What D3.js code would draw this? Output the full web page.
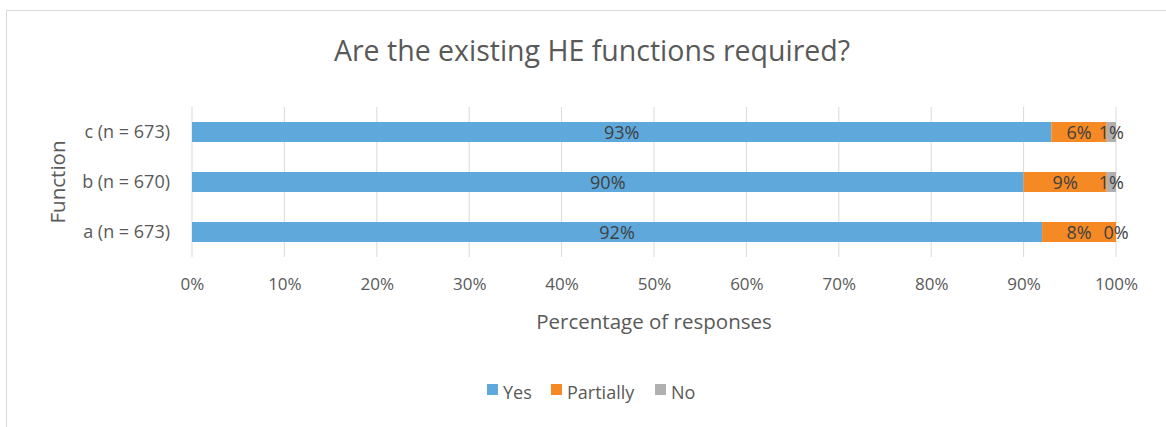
<!DOCTYPE html>
<html>
<head>
<meta charset="utf-8">
<script src="https://cdn.jsdelivr.net/npm/d3@7"></script>
<style>
  body { margin: 0; background: #fff; }
  text { font-family: "Open Sans", "Noto Sans", sans-serif; }
</style>
</head>
<body>
<div id="chart"></div>
<script>
// categories from top to bottom as drawn
const categories = ["c (n = 673)", "b (n = 670)", "a (n = 673)"];
const seriesNames = ["Yes", "Partially", "No"];
const yesValues = [93, 90, 92];
const partialValues = [6, 9, 8];
const noValues = [1, 1, 0];
const xTicks = [0, 10, 20, 30, 40, 50, 60, 70, 80, 90, 100];
const colors = ["#5fa8dc", "#f58a25", "#b0b0b0"];

const width = 1166, height = 427;
const margin = { top: 107, right: 50, bottom: 170, left: 192 };

const svg = d3.select('#chart').append('svg')
    .attr('width', width)
    .attr('height', height);

// chart border
svg.append('rect')
    .attr('x', 6.5).attr('y', 10.5)
    .attr('width', 1170).attr('height', 430)
    .attr('fill', 'none')
    .attr('stroke', '#d9d9d9');

const x = d3.scaleLinear().domain([0, 100]).range([margin.left, width - margin.right]);
const y = d3.scaleBand().domain(categories).range([margin.top, height - margin.bottom]).paddingInner(0.6).paddingOuter(0.3);

// gridlines
svg.append('g')
    .selectAll('line')
    .data(xTicks)
    .join('line')
    .attr('x1', d => x(d)).attr('x2', d => x(d))
    .attr('y1', margin.top).attr('y2', height - margin.bottom)
    .attr('stroke', '#d9d9d9')
    .attr('stroke-width', 1);

// stack
const rows = categories.map((c, i) => ({ cat: c, Yes: yesValues[i], Partially: partialValues[i], No: noValues[i] }));
const stack = d3.stack().keys(seriesNames)(rows);

const layers = svg.append('g')
    .selectAll('g')
    .data(stack)
    .join('g')
    .attr('fill', (d, i) => colors[i]);

layers.selectAll('rect')
    .data(d => d)
    .join('rect')
    .attr('x', d => x(d[0]))
    .attr('y', d => y(d.data.cat))
    .attr('width', d => x(d[1]) - x(d[0]))
    .attr('height', y.bandwidth());

// data labels
layers.selectAll('text')
    .data(d => d.map(v => ({ v, key: d.key })))
    .join('text')
    .attr('x', d => (x(d.v[0]) + x(d.v[1])) / 2)
    .attr('y', d => y(d.v.data.cat) + y.bandwidth() / 2 + 1)
    .attr('dy', '0.35em')
    .attr('text-anchor', 'middle')
    .attr('fill', '#404040')
    .attr('font-size', 18)
    .text(d => d.v.data[d.key] + '%');

// x axis
const xAxis = d3.axisBottom(x).tickValues(xTicks).tickFormat(d => d + '%').tickSize(0).tickPadding(10);
svg.append('g')
    .attr('transform', `translate(0,${height - margin.bottom + 11})`)
    .call(xAxis)
    .call(g => g.select('.domain').remove())
    .call(g => g.selectAll('text').attr('font-size', 17).attr('fill', '#595959').attr('font-family', '"Open Sans", sans-serif'));

// y axis
const yAxis = d3.axisLeft(y).tickSize(0).tickPadding(22);
svg.append('g')
    .attr('transform', `translate(${margin.left},0)`)
    .call(yAxis)
    .call(g => g.select('.domain').remove())
    .call(g => g.selectAll('text').attr('font-size', 18).attr('fill', '#595959').attr('font-family', '"Open Sans", sans-serif'));

// title
svg.append('text')
    .attr('x', 592).attr('y', 61)
    .attr('text-anchor', 'middle')
    .attr('font-size', 28.5)
    .attr('fill', '#595959')
    .text('Are the existing HE functions required?');

// axis titles
svg.append('text')
    .attr('x', (margin.left + width - margin.right) / 2).attr('y', 329)
    .attr('text-anchor', 'middle')
    .attr('font-size', 20.5)
    .attr('fill', '#595959')
    .text('Percentage of responses');

svg.append('text')
    .attr('transform', `translate(65,${(margin.top + height - margin.bottom) / 2}) rotate(-90)`)
    .attr('text-anchor', 'middle')
    .attr('font-size', 20.5)
    .attr('fill', '#595959')
    .text('Function');

// legend
const legendX = [487, 551, 655];
const legend = svg.append('g')
    .selectAll('g')
    .data(seriesNames)
    .join('g')
    .attr('transform', (d, i) => `translate(${legendX[i]},384)`);
legend.append('rect')
    .attr('width', 11).attr('height', 11)
    .attr('fill', (d, i) => colors[i]);
legend.append('text')
    .attr('x', 16).attr('y', 15)
    .attr('font-size', 18)
    .attr('fill', '#595959')
    .text(d => d);
</script>
</body>
</html>
